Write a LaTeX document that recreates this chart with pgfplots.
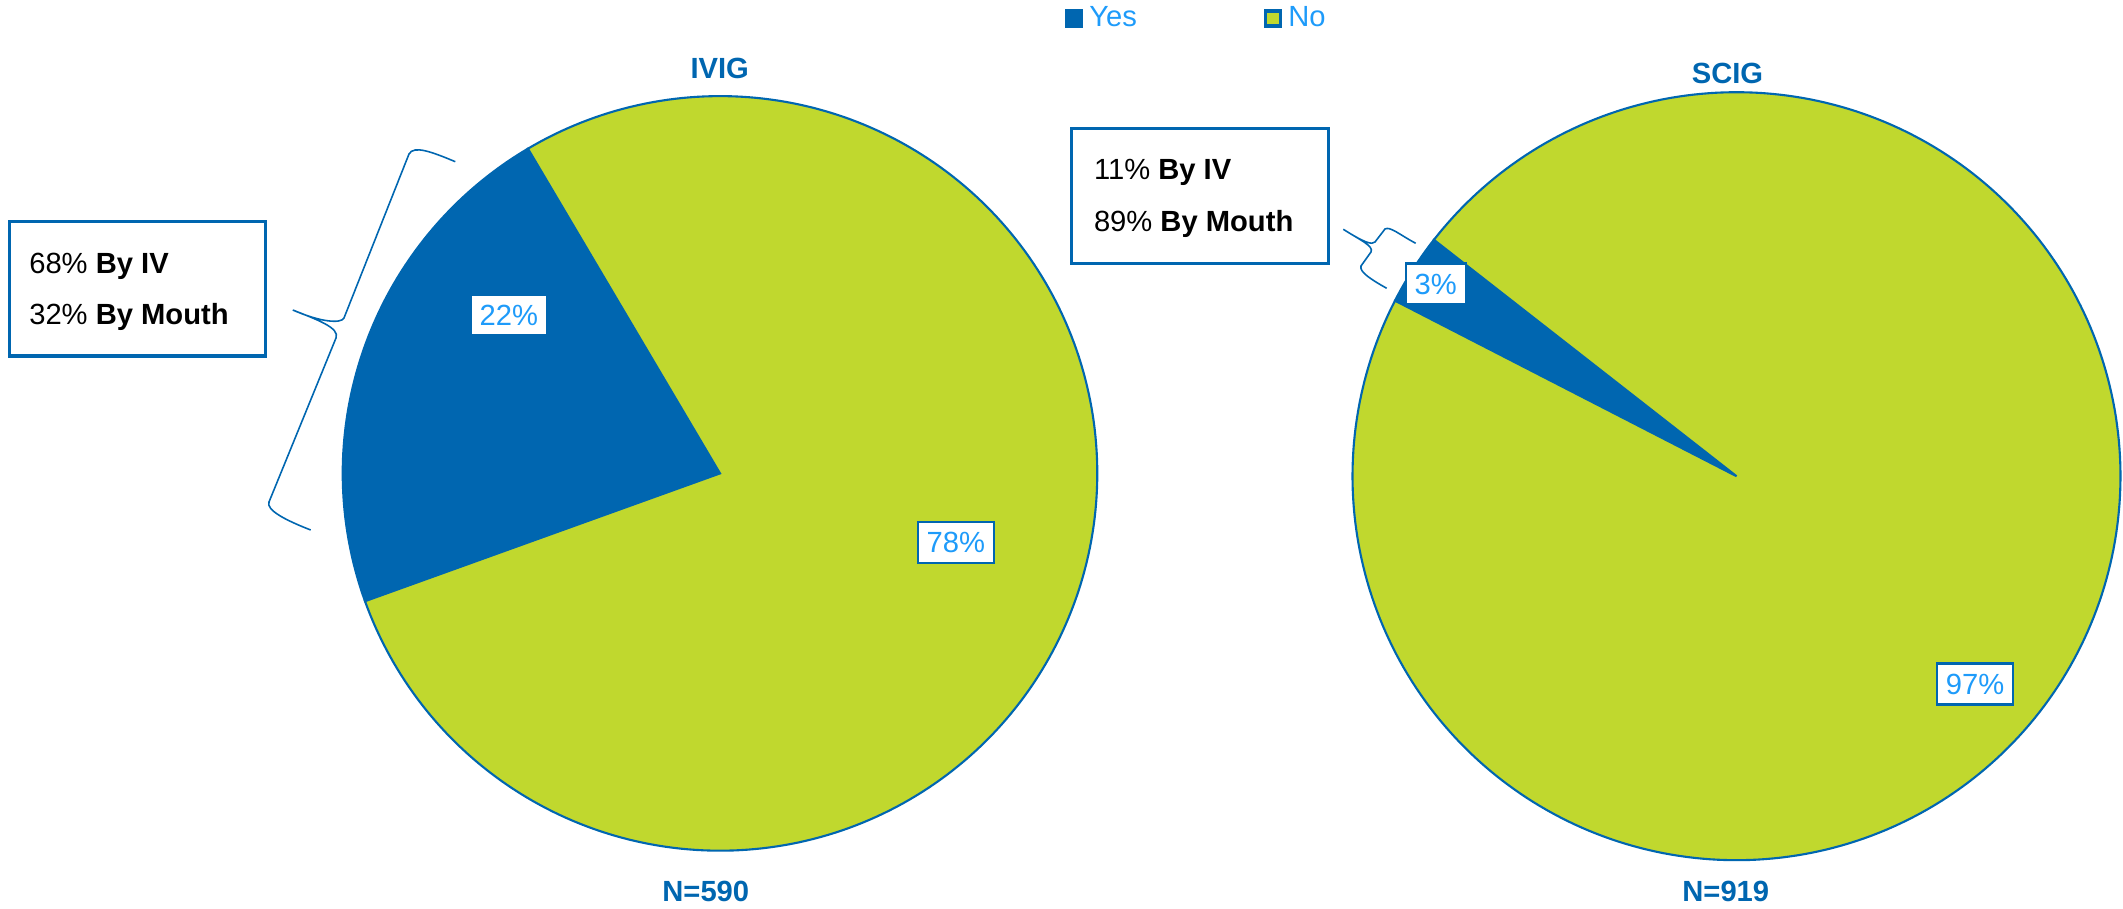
\documentclass[border=0pt]{standalone}
\usepackage{pgfplots}
\pgfplotsset{compat=1.18}
\usepackage{fontspec}
\setmainfont{Liberation Sans}
\definecolor{dblue}{RGB}{0,102,176}
\definecolor{ygreen}{RGB}{192,216,46}
\definecolor{lblue}{RGB}{30,155,250}
% data (percent)
\def\IVIGyes{22}\def\IVIGno{78}
\def\SCIGyes{3}\def\SCIGno{97}
\def\IVIGstart{120.6}
\def\SCIGstart{142}
\begin{document}
\begin{tikzpicture}[
  lab/.style={font=\fontsize{8.3pt}{10pt}\selectfont},
  bl/.style={font=\fontsize{8.3pt}{10pt}\selectfont\bfseries, text=dblue, anchor=base, inner sep=0pt},
  pct/.style={lab, text=lblue, fill=white, draw=dblue, line width=0.6pt, inner xsep=0.09cm, inner ysep=0pt, minimum height=0.41cm},
  tx/.style={lab, anchor=base west, inner sep=0pt, text=black},
]
\path (0,0) rectangle (21.23cm,9.09cm);
\pgfmathsetmacro\La{\IVIGstart}
\pgfmathsetmacro\Lb{\IVIGstart+3.6*\IVIGyes}
\pgfmathsetmacro\Lc{\Lb+3.6*\IVIGno}
\pgfmathsetmacro\Ra{\SCIGstart}
\pgfmathsetmacro\Rb{\SCIGstart+3.6*\SCIGyes}
\pgfmathsetmacro\Rc{\Rb+3.6*\SCIGno}
\begin{axis}[at={(0,0)}, anchor=south west, scale only axis,
  width=21.23cm, height=9.09cm,
  xmin=0, xmax=2123, ymin=0, ymax=909, y dir=reverse,
  hide axis, clip=false,
  legend style={at={(axis description cs:0.5012,0.97943)}, anchor=west, draw=none, fill=none,
    inner sep=0pt, legend columns=2, font=\fontsize{8.3pt}{10pt}\selectfont, text=lblue,
    /tikz/every odd column/.append style={column sep=0.06cm},
    /tikz/every even column/.append style={column sep=1.27cm},
    nodes={inner sep=0pt}},
  legend image code/.code={\draw[#1,line width=1pt] (0cm,-0.075cm) rectangle (0.15cm,0.075cm);},
]
% IVIG pie
\addplot[fill=dblue, draw=dblue, line width=0.6pt, domain=\La:\Lb, samples=80, variable=\t]
  ({720+377.3*cos(\t)},{473.4-377.3*sin(\t)}) -- (axis cs:720,473.4) -- cycle;
\addlegendentry{Yes}
\addplot[fill=ygreen, draw=dblue, line width=0.6pt, domain=\Lb:\Lc, samples=250, variable=\t]
  ({720+377.3*cos(\t)},{473.4-377.3*sin(\t)}) -- (axis cs:720,473.4) -- cycle;
\addlegendentry{No}
% SCIG pie
\addplot[forget plot, fill=dblue, draw=dblue, line width=0.6pt, domain=\Ra:\Rb, samples=30, variable=\t]
  ({1736.5+384*cos(\t)},{476.2-384*sin(\t)}) -- (axis cs:1736.5,476.2) -- cycle;
\addplot[forget plot, fill=ygreen, draw=dblue, line width=0.6pt, domain=\Rb:\Rc, samples=300, variable=\t]
  ({1736.5+384*cos(\t)},{476.2-384*sin(\t)}) -- (axis cs:1736.5,476.2) -- cycle;

% slice labels
\node[pct] at (axis cs:508.9,315) {\IVIGyes\%};
\node[pct] at (axis cs:955.8,542.9) {\IVIGno\%};
\node[pct] at (axis cs:1435.7,284) {\SCIGyes\%};
\node[pct] at (axis cs:1975,684) {\SCIGno\%};

% titles and N
\node[bl] at (axis cs:719.7,78.3) {IVIG};
\node[bl] at (axis cs:1727.5,83.3) {SCIG};
\node[bl] at (axis cs:705.8,901.7) {N=590};
\node[bl] at (axis cs:1725.8,901.7) {N=919};

% callout boxes
\draw[dblue, line width=1pt, fill=white] (axis cs:9.5,221.7) rectangle (axis cs:265.5,356);
\node[tx] at (axis cs:28.6,273.3) {68\% \textbf{By IV}};
\node[tx] at (axis cs:28.6,325) {32\% \textbf{By Mouth}};
\draw[dblue, line width=1pt, fill=white] (axis cs:1071.7,128.3) rectangle (axis cs:1328.3,263.3);
\node[tx] at (axis cs:1093.3,180) {11\% \textbf{By IV}};
\node[tx] at (axis cs:1093.3,231.7) {89\% \textbf{By Mouth}};

% braces
\draw[dblue, line width=0.45pt]
  (axis cs:455.3,161.7) .. controls (axis cs:432,152) and (axis cs:414,145) .. (axis cs:409,154)
  -- (axis cs:344,318) .. controls (axis cs:341,324) and (axis cs:320,322) .. (axis cs:292.8,310)
  .. controls (axis cs:318,320) and (axis cs:340,328) .. (axis cs:336,338)
  -- (axis cs:269,502) .. controls (axis cs:266,510) and (axis cs:285,520) .. (axis cs:310.7,530);
\draw[dblue, line width=0.45pt]
  (axis cs:1415.7,243.3) .. controls (axis cs:1400,235) and (axis cs:1390,226) .. (axis cs:1385,229)
  -- (axis cs:1375,242) .. controls (axis cs:1372,245) and (axis cs:1365,243) .. (axis cs:1343.3,229.3)
  .. controls (axis cs:1360,240) and (axis cs:1374,246) .. (axis cs:1371,252)
  -- (axis cs:1361,266) .. controls (axis cs:1359,272) and (axis cs:1372,280) .. (axis cs:1386.7,288.3);
\end{axis}
\end{tikzpicture}
\end{document}
